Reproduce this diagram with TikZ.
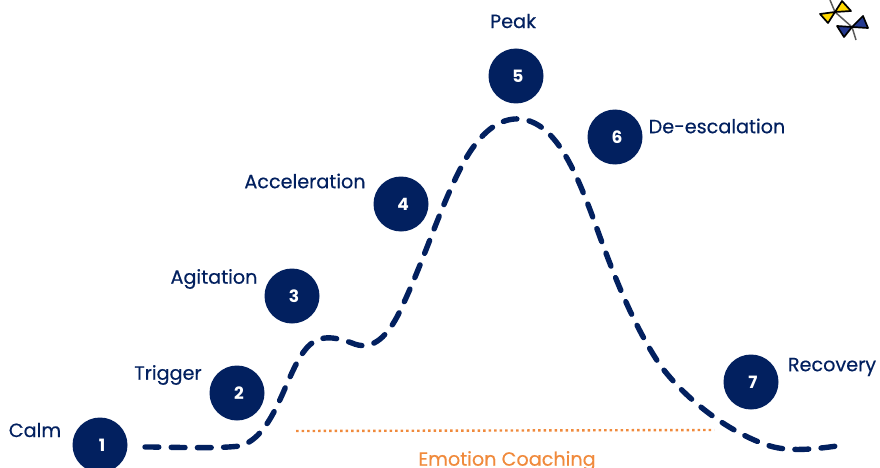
\documentclass[tikz,border=0pt]{standalone}
\usepackage{fontspec}
\setmainfont{Poppins}
\usetikzlibrary{arrows.meta}
\definecolor{navy}{HTML}{02205F}
\definecolor{coach}{HTML}{F08A3C}
\definecolor{bowy}{HTML}{FFD800}
\definecolor{bowb}{HTML}{24398F}
\tikzset{
  stepdot/.style={circle,fill=navy,minimum size=55pt,inner sep=0pt,text=white,font=\fontsize{17}{17}\selectfont\bfseries},
  steplabel/.style={text=navy,font=\fontsize{19.2}{19}\selectfont\addfontfeature{FakeBold=0.4},inner sep=0pt},
  curve/.style={draw=navy,line width=5.4pt,line cap=round,dash pattern=on 13.8pt off 12.4pt},
  bow/.style={draw=black,line width=1.7pt,line join=round},
}
\begin{document}
\begin{tikzpicture}[x=1pt,y=-1pt]
\useasboundingbox (0,0) rectangle (880,468);
\clip (0,0) rectangle (880,468);
\node[stepdot] (n1) at (100,445) {\kern4pt 1};
\node[stepdot] (n2) at (237,393) {\kern4pt 2};
\node[stepdot] (n3) at (292,296) {\kern4pt 3};
\node[stepdot] (n4) at (401,204) {\kern4pt 4};
\node[stepdot] (n5) at (516,76) {\kern4pt 5};
\node[stepdot] (n6) at (615,137) {\kern4pt 6};
\node[stepdot] (n7) at (751,382) {\kern4pt 7};
\node[steplabel] (l1) at (35,430) {Calm};
\node[steplabel] (l2) at (168,375) {Trigger};
\node[steplabel] (l3) at (214,279) {Agitation};
\node[steplabel] (l4) at (305,181) {Acceleration};
\node[steplabel] (l5) at (513,21) {Peak};
\node[steplabel] (l6) at (717,126) {De-escalation};
\node[steplabel] (l7) at (832,367) {Recovery};
\node[steplabel,text=coach] (ec) at (507,461) {Emotion Coaching};
\coordinate (c0) at (145,447);
\coordinate (c1) at (837,446);
\draw[curve] (c0) .. controls (175,447) and (215,449) .. (240,446)
  .. controls (275,436) and (285,375) .. (305,350)
  .. controls (318,333) and (335,337) .. (352,343)
  .. controls (370,351) and (385,340) .. (398,315)
  .. controls (425,260) and (440,205) .. (465,160)
  .. controls (485,125) and (505,118) .. (520,119)
  .. controls (555,122) and (575,170) .. (592,215)
  .. controls (610,265) and (630,320) .. (660,365)
  .. controls (690,405) and (735,435) .. (770,446)
  .. controls (790,452) and (815,449) .. (c1);
\coordinate (d0) at (296,431);
\coordinate (d1) at (714,430);
\draw[coach,line width=2.4pt,dash pattern=on 2.6pt off 2.9pt] (d0) -- (d1);
\coordinate (s0) at (830,0);
\coordinate (s1) at (835,12);
\coordinate (s2) at (852,27);
\coordinate (s3) at (856,40);
\draw[black!65,line width=1.5pt] (s0) -- (s1) -- (s2) -- (s3);
\draw[bow,fill=bowy] (820,14) -- (828,23) -- (s1) -- cycle;
\draw[bow,fill=bowy] (s1) -- (842,1) -- (851,11) -- cycle;
\draw[bow,fill=bowb] (837,26) -- (844,37) -- (s2) -- cycle;
\draw[bow,fill=bowb] (s2) -- (863,16) -- (868,28) -- cycle;
\end{tikzpicture}
\end{document}
